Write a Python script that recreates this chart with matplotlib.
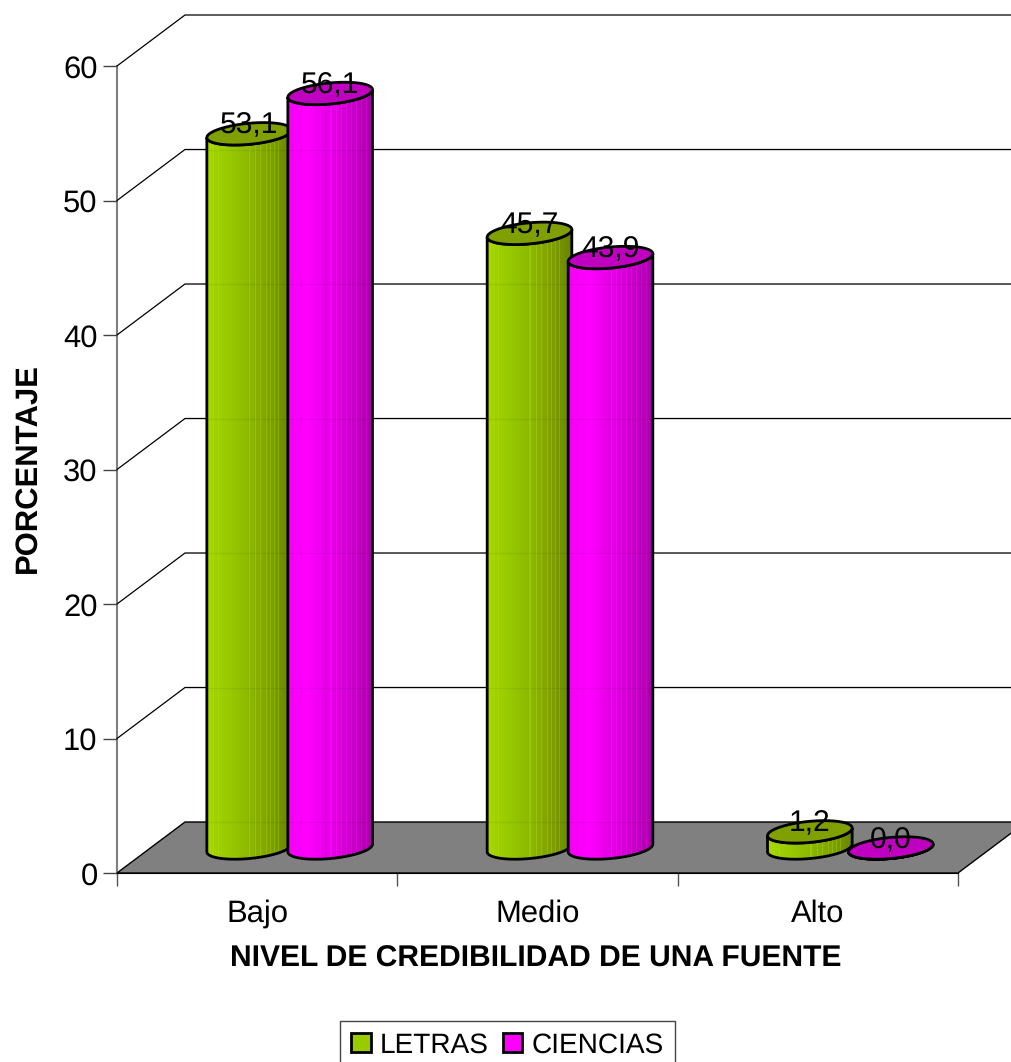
import numpy as np
import matplotlib
matplotlib.use('Agg')
import matplotlib.pyplot as plt
from matplotlib.colors import LinearSegmentedColormap
from matplotlib.patches import Polygon, Patch

plt.rcParams['font.family'] = ['Liberation Sans', 'DejaVu Sans']
plt.rcParams['text.hinting'] = 'no_hinting'
plt.rcParams['text.hinting_factor'] = 1

categories = ['Bajo', 'Medio', 'Alto']
letras = [53.1, 45.7, 1.2]
ciencias = [56.1, 43.9, 0.0]
y_ticks = [0, 10, 20, 30, 40, 50, 60]

W, H = 1011, 1062
fig = plt.figure(figsize=(W / 100, H / 100), dpi=100)
# front plane of the 3d box, the wall and floor are offset from it
L, R, T, B = 117, 958, 66, 873
ax = fig.add_axes([L / W, 1 - B / H, (R - L) / W, (B - T) / H])
ax.patch.set_alpha(0)

# pixels per data unit
px = (R - L) / 3.0
py = (B - T) / 60.0
depth_x, depth_y = 68 / px, 51 / py      # full depth of the box
bar_x, bar_y = 32.5 / px, 25 / py        # bars stand about halfway in
step = 81 / px

# lighter 1px streaks in the shading, counted in px from the left side of a bar
green_streaks = [3, 6, 11, 42, 48, 53, 59, 63, 67, 71]
magenta_streaks = [7, 13, 42, 47, 52, 57, 62, 67, 72, 77]


def ellipse(cx, cy, t):
    # tilted ellipse, the 3d cap of a cylinder
    a, b, tilt = 42.5, 10.5, np.radians(5.5)
    xp = a * np.cos(t) * np.cos(tilt) - b * np.sin(t) * np.sin(tilt)
    yp = a * np.cos(t) * np.sin(tilt) + b * np.sin(t) * np.cos(tilt)
    return cx + xp / px, cy + yp / py


def cylinder(cx, value, cmap, top_color, streaks, z):
    t_all = np.linspace(0, 2 * np.pi, 200)
    # find where the outline is leftmost/rightmost so the sides are vertical
    ex, _ = ellipse(0, 0, t_all)
    t_r = t_all[np.argmax(ex)]
    t_l = t_all[np.argmin(ex)]
    if t_l < t_r:
        t_l += 2 * np.pi
    lower = np.linspace(t_l, t_l + ((t_r - t_l) % (2 * np.pi)), 80)
    xb, yb = ellipse(cx, bar_y, lower)
    xt, yt = ellipse(cx, bar_y + value, lower[::-1])
    body = Polygon(np.r_[np.c_[xb, yb], np.c_[xt, yt]], closed=True, fc='none',
                   ec='k', lw=2.0, zorder=z + 0.2, clip_on=False)
    ax.add_patch(body)
    if value > 0:
        grad = np.linspace(0, 1, 90)
        grad[np.array(streaks) + 3] -= 0.22
        im = ax.imshow(np.clip(grad, 0, 1)[None, :], cmap=cmap, vmin=0, vmax=1, aspect='auto',
                       zorder=z + 0.1, interpolation='nearest',
                       extent=(cx - 45 / px, cx + 45 / px, bar_y - 2, bar_y + value + 2))
        im.set_clip_path(body)
    xc, yc = ellipse(cx, bar_y + value, t_all)
    ax.add_patch(Polygon(np.c_[xc, yc], closed=True, fc=top_color, ec='k', lw=2.0,
                         zorder=z + 0.3, clip_on=False))
    ax.text(cx, bar_y + value + 8 / py, f'{value:.1f}'.replace('.', ','), fontsize=21.5,
            ha='center', va='center', zorder=30, clip_on=False)


green = LinearSegmentedColormap.from_list('g', ['#a8d800', '#99cc00', '#8db800', '#7f9f00', '#648000'])
magenta = LinearSegmentedColormap.from_list('m', ['#f400f4', '#ff00ff', '#e400e4', '#c800c8', '#a000a0'])

# floor and wall lines
floor = [(0, 0), (3, 0), (3 + depth_x, depth_y), (depth_x, depth_y)]
ax.add_patch(Polygon(floor, closed=True, fc='#808080', ec='k', lw=1.0, zorder=1, clip_on=False))
for v in y_ticks[1:]:
    ax.plot([0, depth_x, 3 + depth_x], [v, v + depth_y, v + depth_y], color='k', lw=0.9,
            zorder=1, clip_on=False)

for i, cat in enumerate(categories):
    mid = i + 0.5 + bar_x
    cylinder(mid - step / 2, letras[i], green, '#809f00', green_streaks, 3 + 2 * i)
    cylinder(mid + step / 2, ciencias[i], magenta, '#c000c0', magenta_streaks, 4 + 2 * i)

# wall lines show faintly through the bars
for v in y_ticks[:-1]:
    ax.plot([depth_x, 3 + depth_x], [v + depth_y, v + depth_y], color='k', lw=0.9, alpha=0.06,
            zorder=20, clip_on=False)

ax.set_xlim(0, 3)
ax.set_ylim(0, 60)

ax.set_yticks(y_ticks)
ax.tick_params(axis='y', labelsize=22, length=10, width=1.0, color='#444444', pad=4)
ax.set_xticks([0, 1, 2, 3])
ax.set_xticklabels([])
ax.set_xticks([0.5, 1.5, 2.5], minor=True)
ax.set_xticklabels(categories, minor=True, fontsize=22)
ax.tick_params(axis='x', which='major', length=9.5, width=1.0, color='#555555')
ax.tick_params(axis='x', which='minor', length=0, pad=19)

for s in ['top', 'right']:
    ax.spines[s].set_visible(False)
ax.spines['left'].set_color('#808080')
ax.spines['left'].set_linewidth(1.5)
ax.spines['bottom'].set_color('k')
ax.spines['left'].set_zorder(0.5)

ax.set_xlabel('NIVEL DE CREDIBILIDAD DE UNA FUENTE', fontsize=21.8, fontweight='bold')
ax.xaxis.set_label_coords((536 - L) / (R - L), (B - 959) / (B - T), transform=ax.transAxes)
ax.xaxis.label.set_va('center')
ax.set_ylabel('PORCENTAJE', fontsize=22, fontweight='bold')
ax.yaxis.set_label_coords((28 - L) / (R - L), (B - 468) / (B - T), transform=ax.transAxes)
ax.yaxis.label.set_va('center')

handles = [Patch(fc='#99cc00', ec='k', lw=2), Patch(fc='#ff00ff', ec='k', lw=2)]
leg = fig.legend(handles, ['LETRAS', 'CIENCIAS'], ncol=2, loc='upper left',
                 bbox_to_anchor=(340 / W, 1 - 1021 / H), bbox_transform=fig.transFigure,
                 fontsize=20.5, frameon=True, fancybox=False, edgecolor='#444444', framealpha=1,
                 borderaxespad=0, borderpad=0.4, handlelength=0.68, handleheight=0.68,
                 handletextpad=0.32, columnspacing=0.5)
leg.get_frame().set_linewidth(1.0)

fig.savefig('out.png', dpi=100)
